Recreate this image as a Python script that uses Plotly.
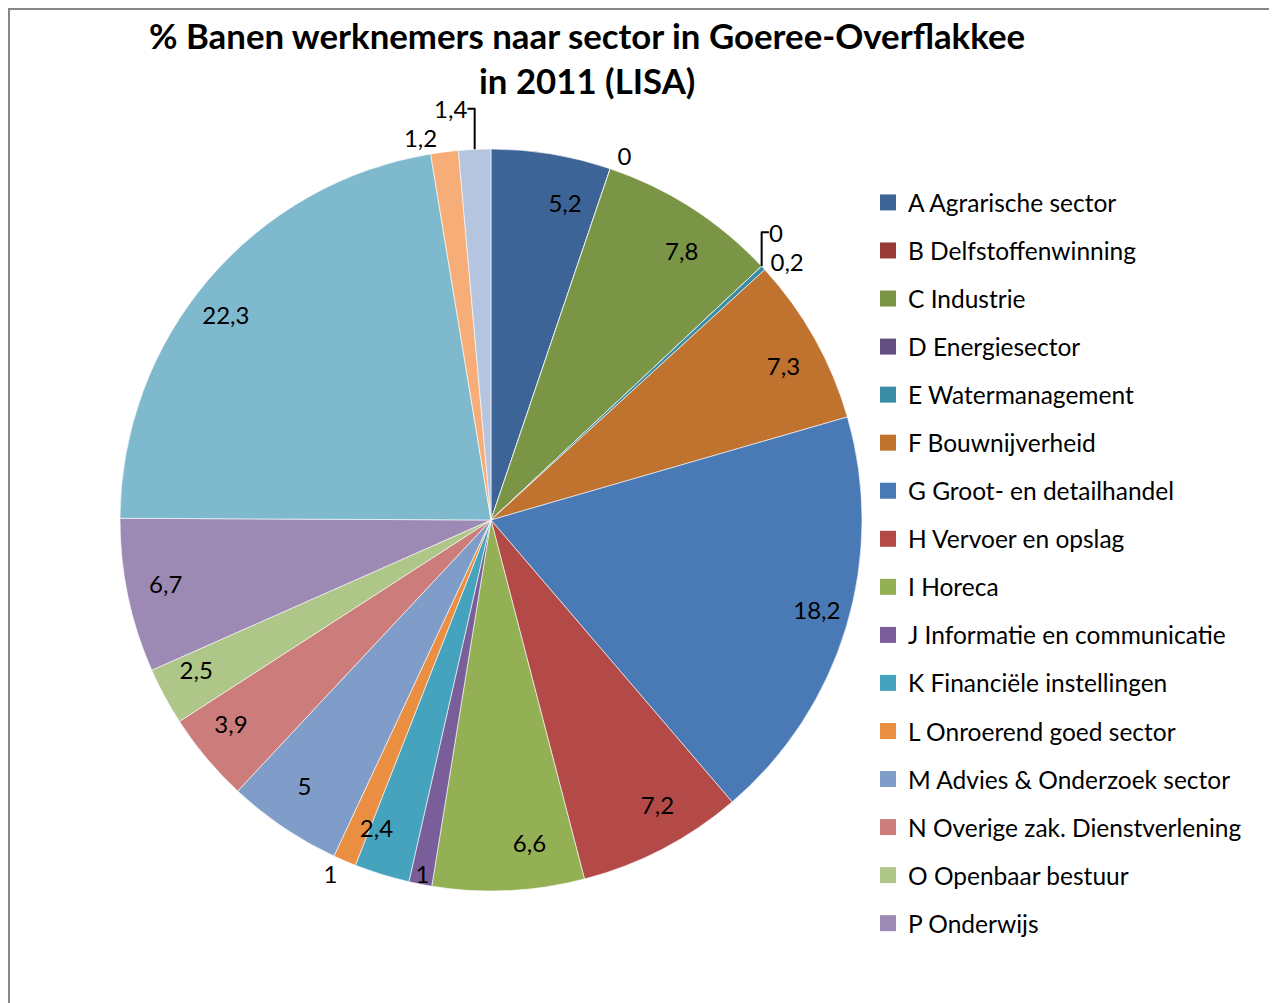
import plotly.graph_objects as go

# sector shares (%) in Goeree-Overflakkee, 2011 (LISA)
sectors = [
    "A Agrarische sector", "B Delfstoffenwinning", "C Industrie", "D Energiesector",
    "E Watermanagement", "F Bouwnijverheid", "G Groot- en detailhandel",
    "H Vervoer en opslag", "I Horeca", "J Informatie en communicatie",
    "K Financiële instellingen", "L Onroerend goed sector",
    "M Advies & Onderzoek sector", "N Overige zak. Dienstverlening",
    "O Openbaar bestuur", "P Onderwijs", "Q Gezondheids- en welzijnszorg",
    "R Cultuur, sport en recreatie", "S Overige dienstverlening",
]
shares = [5.2, 0, 7.8, 0, 0.2, 7.3, 18.2, 7.2, 6.6, 1, 2.4, 1, 5, 3.9, 2.5, 6.7, 22.3, 1.2, 1.4]
colors = [
    "#3D6496", "#983A37", "#7A9545", "#634E82", "#3A8CA4", "#C0722F",
    "#4A7AB6", "#B44A47", "#93B055", "#7A5E9A", "#46A3BD", "#EA8E41",
    "#7F9DC8", "#CC7C7B", "#AFC689", "#9D8AB4", "#7EB9CE", "#F7AD78", "#B5C4DF",
]
n_legend = 16  # the legend in the original stops at P

FONT = "Lato"
# the page adds an 8px body margin, so the figure is 8px smaller each way
W, H = 1269, 995
cx, cy, r = 483, 512, 371

labels_txt = [f"{v:g}".replace(".", ",") for v in shares]
# label placement per slice: "out" = outside the pie, "in" = inside the thin slice,
# "rim" = near the rim (via the transparent inner pie)
place = ["rim", "out", "rim", "out", "out", "rim", "rim", "rim", "rim", "in",
         "rim", "out", "rim", "rim", "rim", "rim", "rim", "out", "out"]


def dom(rad):
    return dict(x=[(cx - rad) / W, (cx + rad) / W], y=[1 - (cy + rad) / H, 1 - (cy - rad) / H])


fig = go.Figure()

# coloured pie, labels of the small slices
fig.add_trace(go.Pie(
    labels=sectors, values=shares, sort=False, direction="clockwise", rotation=0,
    marker=dict(colors=colors, line=dict(color="white", width=0.6)),
    text=labels_txt, textinfo="text",
    textposition=[{"out": "outside", "in": "inside"}.get(p, "none") for p in place],
    insidetextorientation="horizontal",
    insidetextfont=dict(family=FONT, size=24, color="black"),
    outsidetextfont=dict(family=FONT, size=24, color="black"),
    domain=dom(r), showlegend=False, hoverinfo="label+value",
))

# transparent smaller pie to put the other labels near the rim
fig.add_trace(go.Pie(
    labels=sectors, values=shares, sort=False, direction="clockwise", rotation=0,
    marker=dict(colors=["rgba(0,0,0,0)"] * len(shares), line=dict(width=0)),
    text=labels_txt, textinfo="text",
    textposition=["outside" if p == "rim" else "none" for p in place],
    outsidetextfont=dict(family=FONT, size=24, color="black"),
    domain=dom(r * 0.83), showlegend=False, hoverinfo="skip",
))

for i in range(n_legend):
    fig.add_trace(go.Scatter(
        x=[None], y=[None], mode="markers", name=sectors[i], legendgroup=sectors[i],
        marker=dict(symbol="square", size=16, color=colors[i]),
    ))

fig.add_annotation(text="<b>% Banen werknemers naar sector in Goeree-Overflakkee</b>",
                   x=579 / W, y=1 - 27 / H, xref="paper", yref="paper", showarrow=False,
                   xanchor="center", yanchor="middle",
                   font=dict(family=FONT, size=34.8, color="black"))
fig.add_annotation(text="<b>in 2011 (LISA)</b>",
                   x=579 / W, y=1 - 72 / H, xref="paper", yref="paper", showarrow=False,
                   xanchor="center", yanchor="middle",
                   font=dict(family=FONT, size=34.8, color="black"))

fig.add_shape(type="rect", xref="paper", yref="paper",
              x0=1 / W, x1=1264 / W, y0=-0.02, y1=1 - 1 / H,
              line=dict(color="#868686", width=2))

fig.update_layout(
    width=W, height=H,
    margin=dict(l=0, r=0, t=0, b=0),
    paper_bgcolor="white", plot_bgcolor="white",
    font=dict(family=FONT, size=24, color="black"),
    xaxis=dict(visible=False), yaxis=dict(visible=False),
    uniformtext=dict(minsize=24, mode="show"),
    legend=dict(x=860 / W, y=1 - 172 / H, xanchor="left", yanchor="top",
                font=dict(family=FONT, size=24.5, color="black"),
                tracegroupgap=13.2, itemclick=False, bgcolor="rgba(0,0,0,0)"),
)

fig.write_html("out.html")
